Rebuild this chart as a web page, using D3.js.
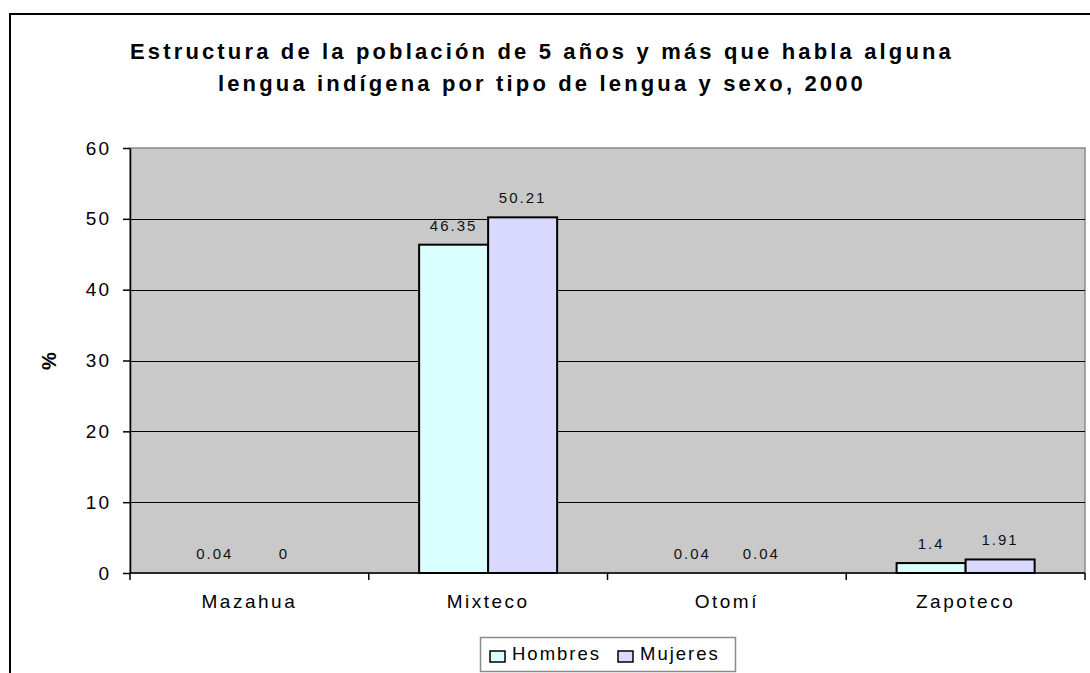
<!DOCTYPE html>
<html>
<head>
<meta charset="utf-8">
<script src="https://cdn.jsdelivr.net/npm/d3@7"></script>
<style>
    body { margin: 0; background: #fff; }
    svg { display: block; font-family: 'Liberation Sans', Arial, sans-serif; }
</style>
</head>
<body>
<svg class="chart" width="1090" height="673"></svg>
<script>
// data
var categories = ['Mazahua', 'Mixteco', 'Otomí', 'Zapoteco'];
var hombres = [0.04, 46.35, 0.04, 1.4];
var mujeres = [0, 50.21, 0.04, 1.91];
var seriesNames = ['Hombres', 'Mujeres'];
var yTicks = [0, 10, 20, 30, 40, 50, 60];
var titleLines = [
    'Estructura de la población de 5 años y más que habla alguna',
    'lengua indígena por tipo de lengua y sexo, 2000'
];

(function() {

    var p = {};
        p.plot = {left: 130, right: 1085, top: 148, bottom: 573};
        p.bg = '#c9c9c9';
        p.colors = ['#d9ffff', '#d9d9ff'];
        p.titleCenter = 542;
        p.titleWidth = 824;

    var svg = d3.select('.chart');

    // outer chart border (runs past the window on right and bottom)
    svg.append('rect')
        .attr('x', 10)
        .attr('y', 14)
        .attr('width', 1200)
        .attr('height', 800)
        .attr('fill', '#fff')
        .attr('stroke', '#000')
        .attr('stroke-width', 2)
    ;

    //-----  Title  -----//
    var t1 = svg.append('text')
        .attr('x', p.titleCenter)
        .attr('y', 59)
        .attr('text-anchor', 'middle')
        .attr('font-weight', 'bold')
        .attr('font-size', 22)
        .text(titleLines[0])
    ;
    var natural = t1.node().getComputedTextLength();
    var spacing = (p.titleWidth - natural) / titleLines[0].length;
    t1.attr('letter-spacing', spacing);
    svg.append('text')
        .attr('x', p.titleCenter)
        .attr('y', 91)
        .attr('text-anchor', 'middle')
        .attr('font-weight', 'bold')
        .attr('font-size', 22)
        .attr('letter-spacing', spacing)
        .text(titleLines[1])
    ;

    //-----  Scales  -----//
    var x = d3.scaleBand()
        .domain(categories)
        .range([p.plot.left, p.plot.right])
        .padding(0)
    ;
    var x1 = d3.scaleBand()
        .domain(seriesNames)
        .range([0, x.bandwidth()])
        .paddingInner(0)
        .paddingOuter(0.73)
    ;
    var y = d3.scaleLinear()
        .domain([0, 60])
        .range([p.plot.bottom, p.plot.top])
    ;

    //-----  Plot area  -----//
    svg.append('rect')
        .attr('x', p.plot.left)
        .attr('y', p.plot.top)
        .attr('width', p.plot.right - p.plot.left)
        .attr('height', p.plot.bottom - p.plot.top)
        .attr('fill', p.bg)
        .attr('stroke', '#8a8a8a')
        .attr('stroke-width', 1.5)
    ;
    svg.append('g')
        .attr('class', 'grid')
        .selectAll('line')
        .data(yTicks.filter(function(t) { return t > 0 && t < 60; }))
        .enter().append('line')
            .attr('x1', p.plot.left)
            .attr('x2', p.plot.right)
            .attr('y1', function(d) { return Math.round(y(d)) + 0.5; })
            .attr('y2', function(d) { return Math.round(y(d)) + 0.5; })
            .attr('stroke', '#000')
            .attr('stroke-width', 1)
    ;

    //-----  Bars  -----//
    var groups = svg.selectAll('g.cat')
        .data(categories)
        .enter().append('g')
            .attr('class', 'cat')
            .attr('transform', function(d) { return 'translate(' + x(d) + ',0)'; })
    ;
    var series = [hombres, mujeres];
    groups.each(function(c, i) {
        var g = d3.select(this);
        series.forEach(function(s, k) {
            var v = s[i];
            var bx = x1(seriesNames[k]);
            // bars thinner than a pixel vanish into the axis line
            if (y(0) - y(v) >= 1) {
                g.append('rect')
                    .attr('x', bx)
                    .attr('y', y(v))
                    .attr('width', x1.bandwidth())
                    .attr('height', y(0) - y(v))
                    .attr('fill', p.colors[k])
                    .attr('stroke', '#000')
                    .attr('stroke-width', 2)
                ;
            }
            g.append('text')
                .attr('x', bx + x1.bandwidth() / 2)
                .attr('y', y(v) - 14)
                .attr('text-anchor', 'middle')
                .attr('font-size', 15)
                .attr('letter-spacing', 2)
                .attr('fill', '#111')
                .text(String(v))
            ;
        });
    });

    //-----  Y Axis  -----//
    svg.append('g')
        .attr('class', 'yaxis')
        .attr('transform', 'translate(' + p.plot.left + ',0)')
        .call(d3.axisLeft(y)
            .tickValues(yTicks)
            .tickSizeInner(7)
            .tickSizeOuter(0)
            .tickPadding(12))
    ;
    svg.selectAll('.yaxis .tick text')
        .attr('font-size', 19)
        .attr('letter-spacing', 2)
        .attr('font-family', 'Liberation Sans, Arial, sans-serif')
        .attr('fill', '#000')
    ;
    svg.selectAll('.yaxis path, .yaxis line').attr('stroke', '#000').attr('stroke-width', 1.5);

    //-----  X Axis  -----//
    var xa = svg.append('g')
        .attr('class', 'xaxis')
        .attr('transform', 'translate(0,' + p.plot.bottom + ')')
    ;
    xa.append('line')
        .attr('x1', p.plot.left)
        .attr('x2', p.plot.right)
        .attr('stroke', '#000')
        .attr('stroke-width', 1.5)
    ;
    xa.selectAll('line.sep')
        .data(categories.concat(['end']))
        .enter().append('line')
            .attr('class', 'sep')
            .attr('x1', function(d, i) { return i < categories.length ? x(d) : p.plot.right; })
            .attr('x2', function(d, i) { return i < categories.length ? x(d) : p.plot.right; })
            .attr('y1', 0)
            .attr('y2', 7)
            .attr('stroke', '#000')
            .attr('stroke-width', 1.5)
    ;
    xa.selectAll('text')
        .data(categories)
        .enter().append('text')
            .attr('x', function(d) { return x(d) + x.bandwidth() / 2; })
            .attr('y', 35)
            .attr('text-anchor', 'middle')
            .attr('font-size', 19)
            .attr('letter-spacing', 2.5)
            .text(function(d) { return d; })
    ;

    //-----  Y title  -----//
    svg.append('text')
        .attr('transform', 'translate(56,361) rotate(-90)')
        .attr('text-anchor', 'middle')
        .attr('font-weight', 'bold')
        .attr('font-size', 20)
        .text('%')
    ;

    //-----  Legend  -----//
    var legend = svg.append('g').attr('class', 'legend');
    legend.append('rect')
        .attr('x', 480.5)
        .attr('y', 637.5)
        .attr('width', 255)
        .attr('height', 34)
        .attr('fill', '#fff')
        .attr('stroke', '#8a8a8a')
        .attr('stroke-width', 1.5)
    ;
    var lx = [490, 618];
    seriesNames.forEach(function(name, k) {
        legend.append('rect')
            .attr('x', lx[k])
            .attr('y', 651)
            .attr('width', 15)
            .attr('height', 11)
            .attr('fill', p.colors[k])
            .attr('stroke', '#000')
            .attr('stroke-width', 1.5)
        ;
        legend.append('text')
            .attr('x', lx[k] + 22)
            .attr('y', 660)
            .attr('font-size', 18.5)
            .attr('letter-spacing', 2)
            .text(name)
        ;
    });
})();
</script>
</body>
</html>
